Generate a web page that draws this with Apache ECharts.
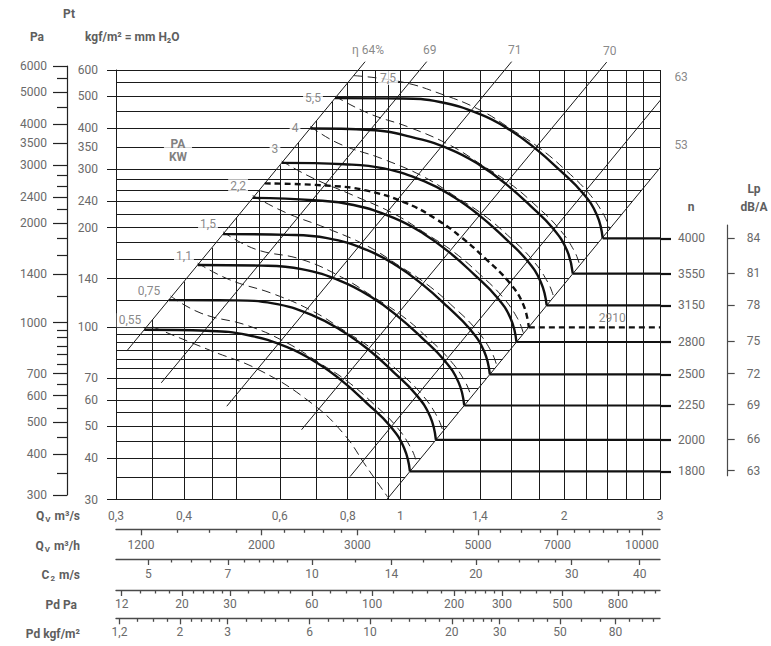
<!DOCTYPE html>
<html lang="it">
<head>
<meta charset="utf-8">
<title>Curve caratteristiche ventilatore</title>
<script src="https://cdn.jsdelivr.net/npm/echarts@6.0.0/dist/echarts.min.js"></script>
<style>
html,body{margin:0;padding:0;background:#fff;}
#chart{width:771px;height:646px;}
</style>
</head>
<body>
<div id="chart"></div>
<script>
// Fan performance chart: total pressure against volume flow on log-log scales,
// with speed curves, motor power curves, efficiency parabolas and side scales.

// ---- axis ranges ----
const qRange = [0.3, 3];          // Qv m³/s
const ptRange = [30, 600];        // Pt kgf/m²
const paRange = [300, 6000];      // Pt Pa
const lpRange = [35.2, 203];      // pressure span covered by the Lp scale

// ---- tick values ----
const qLabels = [0.3, 0.4, 0.6, 0.8, 1, 1.4, 2, 3];
const ptLabels = [600, 500, 400, 350, 300, 240, 200, 140, 100, 70, 60, 50, 40, 30];
const ptMarks = [600, 500, 400, 300, 240, 200, 140, 100, 70, 60, 50, 40, 30];
const paMajor = [6000, 5000, 4000, 3500, 3000, 2400, 2000, 1400, 1000, 700, 600, 500, 400, 300];
const paMinor = [5500, 4500, 2800, 2600, 2200, 1800, 1600, 1200, 950, 900, 850, 800, 750, 650, 550, 450, 350];

// ---- chart grid ----
const gridPt = [600, 550, 500, 450, 400, 350, 300, 280, 260, 240, 220, 200, 180, 160, 140, 120,
                100, 95, 90, 85, 80, 75, 70, 65, 60, 55, 50, 45, 40, 35];
const gridQ = [0.35, 0.4, 0.45, 0.5, 0.6, 0.7, 0.8, 0.9, 0.95, 1, 1.2, 1.4, 1.6, 1.8, 2, 2.2, 2.4, 2.6, 2.8, 3];
const gridQUpper = [0.55, 0.65, 0.75, 0.85];
const gridQUpperFloor = 140;

// ---- efficiency parabolas (P proportional to Q²) ----
const etaNames = ['η 64%', '69', '71', '70', '63', '53'];
const eta64 = [[0.3139, 84.5], [0.861, 635.8]];
const eta69 = [[0.3634, 67.7], [1.1175, 636]];
const eta71 = [[0.4795, 57.5], [1.601, 636]];
const eta70 = [[0.658, 48.8], [2.394, 634]];
const eta63 = [[0.808, 35.2], [3.158, 537]];
const eta53 = [[0.944, 30], [3.158, 336]];

// ---- speed curves (rpm) ----
const speeds = [4000, 3550, 3150, 2910, 2800, 2500, 2250, 2000, 1800];
const curve4000 = [[0.758,493],[0.998,492],[1.182,480],[1.40,441],[1.59,395],[1.767,348],[1.965,298],[2.165,254],[2.298,218],[2.354,185.5]];
const curve3550 = [[0.683,399],[0.879,395],[1.041,377],[1.234,345],[1.400,309],[1.558,272],[1.732,233],[1.908,198.5],[2.024,170.4],[2.074,145]];
const curve3150 = [[0.605,314],[0.787,311],[0.932,302],[1.105,276.2],[1.253,247.4],[1.395,218],[1.551,186.6],[1.708,159.1],[1.812,136.5],[1.857,116.2]];
const curve2910 = [[0.563,272],[0.730,268],[0.864,259],[1.025,237],[1.162,212.3],[1.293,187],[1.438,160.1],[1.584,136.5],[1.681,117.1],[1.722,99.7]];
const curve2800 = [[0.535,246],[0.693,242],[0.820,234],[0.972,213.9],[1.103,191.6],[1.227,168.8],[1.364,144.5],[1.503,123.2],[1.595,105.8],[1.634,90]];
const curve2500 = [[0.472,191],[0.619,190],[0.733,185.8],[0.869,170.7],[0.986,152.9],[1.096,134.7],[1.219,115.3],[1.343,98.3],[1.425,84.4],[1.460,71.8]];
const curve2250 = [[0.424,154],[0.555,153.3],[0.658,149.6],[0.779,137.4],[0.884,123.1],[0.984,108.4],[1.094,92.8],[1.205,79.1],[1.279,67.9],[1.310,57.8]];
const curve2000 = [[0.375,120.5],[0.493,120.3],[0.583,117.8],[0.691,108.2],[0.784,96.9],[0.873,85.4],[0.970,73.1],[1.069,62.3],[1.134,53.5],[1.162,45.5]];
const curve1800 = [[0.338,98],[0.441,97.3],[0.523,94.5],[0.619,86.8],[0.703,77.7],[0.782,68.5],[0.869,58.6],[0.958,50],[1.016,42.9],[1.041,36.5]];
const speedCurves = [curve4000, curve3550, curve3150, curve2910, curve2800, curve2500, curve2250, curve2000, curve1800];
const speedDashed = [false, false, false, true, false, false, false, false, false];
const lpValues = [84, 81, 78, null, 75, 72, 69, 66, 63];

// ---- absorbed power curves (kW) ----
const kwNames = ['7,5', '5,5', '4', '3', '2,2', '1,5', '1,1', '0,75', '0,55'];
const kw75 = [[0.821,577],[1.0,553],[1.182,509],[1.40,454],[1.606,395],[1.802,348],[2.014,298],[2.219,254],[2.367,218],[2.425,196.6]];
const kw55 = [[0.758,500],[0.872,444],[1.041,401.6],[1.234,355],[1.414,308.7],[1.589,272],[1.775,232.9],[1.956,198.5],[2.085,170.4],[2.136,153.7]];
const kw4 = [[0.683,405],[0.768,360],[0.932,321.7],[1.105,284.5],[1.266,247.4],[1.423,218],[1.590,186.6],[1.751,159.1],[1.866,136.5],[1.913,123.2]];
const kw3 = [[0.605,318],[0.688,283],[0.820,250],[0.972,220.3],[1.114,191.6],[1.252,168.8],[1.398,144.5],[1.541,123.2],[1.643,105.8],[1.683,95.4]];
const kw22 = [[0.535,250],[0.615,222],[0.733,198.8],[0.869,175.8],[0.996,152.9],[1.118,134.7],[1.249,115.3],[1.377,98.3],[1.468,84.4],[1.504,76.1]];
const kw15 = [[0.472,194],[0.541,172],[0.658,160.1],[0.779,141.5],[0.893,123.1],[1.004,108.4],[1.121,92.8],[1.235,79.1],[1.317,67.9],[1.349,61.3]];
const kw11 = [[0.424,156],[0.485,139],[0.583,126],[0.691,111.4],[0.792,96.9],[0.890,85.4],[0.994,73.1],[1.096,62.3],[1.168,53.5],[1.197,48.2]];
const kw075 = [[0.378,124],[0.43,110],[0.523,101],[0.619,89.4],[0.710,77.7],[0.798,68.5],[0.891,58.6],[0.982,50],[1.046,42.9],[1.072,38.7]];
const kw055 = [[0.351,99.9],[0.447,84.9],[0.552,73.8],[0.682,59.2],[0.785,47.6],[0.867,37.6],[0.949,30.4]];
const kwCurves = [kw75, kw55, kw4, kw3, kw22, kw15, kw11, kw075, kw055];
const kwLabelAt = [[0.9487,567.4],[0.6906,493.4],[0.64,400.3],[0.588,345.5],[0.503,266.9],[0.4428,204.4],[0.4,163.4],[0.345,128.2],[0.3183,104.7]];
const paKwAt = [0.39, 343.3];
const label2910At = [2.45, 99.7];

// ---- auxiliary scales below the chart ----
const qhRange = [1080, 10800];
const qhMajor = [1200, 2000, 3000, 5000, 7000, 10000];
const qhMinor = [1400, 1600, 1800, 2200, 2400, 2600, 2800, 3500, 4000, 4500, 5500, 6000, 6500, 7500, 8000, 8500, 9000, 9500];
const c2Range = [4.36, 43.6];
const c2Major = [5, 7, 10, 14, 20, 30, 40];
const c2Minor = [5.5, 6, 6.5, 7.5, 8, 8.5, 9, 12, 16, 18, 22, 24, 26, 28, 35];
const pdPaRange = [11.43, 1143];
const pdPaMajor = [12, 20, 30, 60, 100, 200, 300, 500, 800];
const pdPaMinor = [14, 16, 18, 22, 24, 26, 28, 35, 40, 45, 50, 70, 80, 90, 120, 140, 160, 180, 220, 240, 260, 280, 350, 400, 450, 600, 700, 900, 1000, 1100];
const pdKgRange = [1.165, 116.5];
const pdKgMajor = [1.2, 2, 3, 6, 10, 20, 30, 50, 80];
const pdKgMinor = [1.4, 1.6, 1.8, 2.2, 2.4, 2.6, 2.8, 3.5, 4, 4.5, 5, 7, 8, 9, 12, 14, 16, 18, 22, 24, 26, 28, 35, 40, 45, 60, 70, 90, 100, 110];

// ---------------------------------------------------------------------------
const INK = '#1a1a1a';
const SCALE_INK = '#4a4a4a';
const TXT = '#6a6a6a';
const HEAD = '#5e5e5e';
const FONT = 'Roboto, "DejaVu Sans", sans-serif';
const dec = v => String(+(+v).toPrecision(6)).replace('.', ',');
const plain = v => String(Math.round(+v));

const etaLines = [eta64, eta69, eta71, eta70, eta63, eta53];
const k64 = eta64[0][1] / (eta64[0][0] * eta64[0][0]);
const k53 = eta53[0][1] / (eta53[0][0] * eta53[0][0]);

// Grid segments, bounded by the 64 % parabola on the left and the 53 % one on the right
const gridSegs = [];
gridPt.forEach(p => gridSegs.push({coords: [[qRange[0], p], [Math.min(qRange[1], Math.sqrt(p / k53)), p]]}));
gridQ.forEach(q => gridSegs.push({coords: [[q, Math.min(ptRange[1], k64 * q * q)], [q, ptRange[0]]]}));
gridQUpper.forEach(q => gridSegs.push({coords: [[q, Math.min(ptRange[1], k64 * q * q)], [q, gridQUpperFloor]]}));

const nLevels = [], nNames = [], lpLevels = [], lpNames = [];
speedCurves.forEach((c, i) => {
  const end = c[c.length - 1];
  if (!speedDashed[i]) { nLevels.push(end[1]); nNames.push(String(speeds[i])); }
  if (lpValues[i] != null) { lpLevels.push(end[1]); lpNames.push(String(lpValues[i])); }
});
const nearestName = (levels, names) => v => {
  let best = 0;
  levels.forEach((l, i) => { if (Math.abs(Math.log(l) - Math.log(v)) < Math.abs(Math.log(levels[best]) - Math.log(v))) best = i; });
  return names[best];
};

const tickLabel = {color: TXT, fontSize: 12, fontFamily: FONT};

const series = [];

series.push({
  type: 'lines', coordinateSystem: 'cartesian2d', xAxisIndex: 0, yAxisIndex: 0,
  data: gridSegs, silent: true, z: 1,
  lineStyle: {color: INK, width: 1, opacity: 1, curveness: 0}
});

etaLines.forEach(d => series.push({
  type: 'line', xAxisIndex: 0, yAxisIndex: 0, data: d, symbol: 'none', clip: false, silent: true, z: 2,
  lineStyle: {color: INK, width: 1}
}));

kwCurves.forEach(d => series.push({
  type: 'line', xAxisIndex: 0, yAxisIndex: 0, data: d, symbol: 'none', silent: true, z: 3,
  smooth: 0.45,
  lineStyle: {color: '#222', width: 1, type: [9, 5]}
}));

speedCurves.forEach((d, i) => {
  const end = d[d.length - 1];
  series.push({
    type: 'line', xAxisIndex: 0, yAxisIndex: 0, data: d, symbol: 'none', silent: true, z: 4,
    smooth: 0.45,
    lineStyle: {color: '#111', width: 2.4, type: speedDashed[i] ? [6, 4] : 'solid'}
  });
  series.push({
    type: 'line', xAxisIndex: 0, yAxisIndex: 0, data: [end, [qRange[1], end[1]]], symbol: 'none', silent: true, z: 4,
    lineStyle: {color: '#111', width: 2.2, type: speedDashed[i] ? [6, 4] : 'solid'}
  });
});

// Text annotations placed in data coordinates
const texts = [];
kwNames.forEach((t, i) => texts.push({
  value: kwLabelAt[i],
  label: {formatter: t, position: 'inside', backgroundColor: '#fff', padding: [1, 2]}
}));
texts.push({
  value: paKwAt,
  label: {formatter: 'PA\nKW', position: 'inside', backgroundColor: '#fff', padding: [1, 5],
          fontWeight: 'bold', color: HEAD, lineHeight: 13}
});
texts.push({value: label2910At, label: {formatter: '2910', position: 'top', distance: 3}});
etaLines.forEach((d, i) => texts.push({
  value: d[1],
  label: {formatter: etaNames[i], position: 'top', distance: i >= 4 ? 2 : 5, offset: i >= 4 ? [9, 0] : [3, 0]}
}));
series.push({
  type: 'scatter', xAxisIndex: 0, yAxisIndex: 0, data: texts, symbolSize: 1, clip: false, silent: true, z: 20,
  itemStyle: {color: 'rgba(0,0,0,0)'},
  label: Object.assign({show: true}, tickLabel)
});

// ---------------------------------------------------------------------------
const scaleGrids = [
  {top: 529.3, range: qhRange, major: qhMajor, minor: qhMinor, margin: 10, fmt: plain},
  {top: 559, range: c2Range, major: c2Major, minor: c2Minor, margin: 9, fmt: dec},
  {top: 590, range: pdPaRange, major: pdPaMajor, minor: pdPaMinor, margin: 8, fmt: dec},
  {top: 618.3, range: pdKgRange, major: pdKgMajor, minor: pdKgMinor, margin: 8, fmt: dec}
];

const grids = [
  {left: 116, top: 70, width: 544, height: 429.5},
  {left: 67, top: 66, width: 1, height: 429},
  {left: 727.7, top: 225, width: 1, height: 250.7}
];
scaleGrids.forEach(s => grids.push({left: 116, top: s.top - 1, width: 544, height: 1}));
grids.forEach(g => { g.containLabel = false; g.outerBoundsMode = 'none'; g.show = false; });

const xAxes = [
  {gridIndex: 0, type: 'log', logBase: 10, min: qRange[0], max: qRange[1],
   axisLine: {show: true, lineStyle: {color: INK, width: 1}}, axisTick: {show: false}, splitLine: {show: false},
   minorTick: {show: false}, minorSplitLine: {show: false},
   axisLabel: Object.assign({customValues: qLabels, formatter: dec, margin: 10}, tickLabel)},
  {gridIndex: 1, type: 'value', show: false},
  {gridIndex: 2, type: 'value', show: false}
];
const yAxes = [
  {gridIndex: 0, type: 'log', logBase: 10, min: ptRange[0], max: ptRange[1], position: 'left',
   axisLine: {show: true, lineStyle: {color: INK, width: 1}},
   axisTick: {show: true, customValues: ptMarks, length: 9, lineStyle: {color: INK, width: 1}},
   splitLine: {show: false}, minorTick: {show: false},
   axisLabel: Object.assign({customValues: ptLabels, formatter: plain, margin: 18}, tickLabel)},
  {gridIndex: 0, type: 'log', logBase: 10, min: ptRange[0], max: ptRange[1], position: 'right',
   axisLine: {show: false},
   axisTick: {show: true, customValues: nLevels, length: 11, lineStyle: {color: '#111', width: 2.2}},
   splitLine: {show: false}, minorTick: {show: false},
   axisLabel: Object.assign({customValues: nLevels, formatter: nearestName(nLevels, nNames), margin: 18}, tickLabel)},
  {gridIndex: 1, type: 'log', logBase: 10, min: paRange[0], max: paRange[1], position: 'left',
   axisLine: {show: true, lineStyle: {color: '#222', width: 1.2}},
   axisTick: {show: true, customValues: paMajor, length: 14, lineStyle: {color: '#222', width: 1.2}},
   splitLine: {show: false}, minorTick: {show: false},
   axisLabel: Object.assign({customValues: paMajor, formatter: plain, margin: 20}, tickLabel)},
  {gridIndex: 1, type: 'log', logBase: 10, min: paRange[0], max: paRange[1], position: 'left',
   axisLine: {show: false},
   axisTick: {show: true, customValues: paMinor, length: 10, lineStyle: {color: '#222', width: 1.2}},
   splitLine: {show: false}, minorTick: {show: false}, axisLabel: {show: false}},
  {gridIndex: 2, type: 'log', logBase: 10, min: lpRange[0], max: lpRange[1], position: 'right',
   axisLine: {show: true, lineStyle: {color: SCALE_INK, width: 1.2}},
   axisTick: {show: true, customValues: lpLevels, length: 7, lineStyle: {color: SCALE_INK, width: 1.2}},
   splitLine: {show: false}, minorTick: {show: false},
   axisLabel: Object.assign({customValues: lpLevels, formatter: nearestName(lpLevels, lpNames), margin: 18}, tickLabel)}
];

scaleGrids.forEach((s, i) => {
  const gi = 3 + i;
  xAxes.push({gridIndex: gi, type: 'log', logBase: 10, min: s.range[0], max: s.range[1], position: 'bottom',
    axisLine: {show: true, lineStyle: {color: SCALE_INK, width: 1.4}},
    axisTick: {show: true, customValues: s.major, length: 6, lineStyle: {color: SCALE_INK, width: 1.3}},
    splitLine: {show: false}, minorTick: {show: false},
    axisLabel: Object.assign({customValues: s.major, formatter: s.fmt, margin: s.margin}, tickLabel)});
  xAxes.push({gridIndex: gi, type: 'log', logBase: 10, min: s.range[0], max: s.range[1], position: 'bottom',
    axisLine: {show: false},
    axisTick: {show: true, customValues: s.minor, length: 3.5, lineStyle: {color: SCALE_INK, width: 1.3}},
    splitLine: {show: false}, minorTick: {show: false}, axisLabel: {show: false}});
  yAxes.push({gridIndex: gi, type: 'value', show: false});
});

// ---------------------------------------------------------------------------
const headStyle = {fontFamily: FONT, fontSize: 12, fontWeight: 'bold', fill: HEAD};
const headRich = {
  b: {fontFamily: FONT, fontSize: 12, fontWeight: 'bold', fill: HEAD},
  s: {fontFamily: FONT, fontSize: 8, fontWeight: 'bold', fill: HEAD, padding: [7, 1, 0, 1]}
};
const head = (x, y, text, align, rich) => ({
  type: 'text', x, y, silent: true,
  style: Object.assign({}, headStyle, {text, align, verticalAlign: 'middle'}, rich ? {rich: headRich} : {})
});

const option = {
  animation: false,
  backgroundColor: '#fff',
  textStyle: {fontFamily: FONT},
  grid: grids,
  xAxis: xAxes,
  yAxis: yAxes,
  series,
  graphic: [
    head(69, 14, 'Pt', 'center'),
    head(37, 37, 'Pa', 'center'),
    head(85, 37, 'kgf/m² = mm H₂O', 'left'),
    head(691, 207, 'n', 'center'),
    head(754, 189, 'Lp', 'center'),
    head(754, 207, 'dB/A', 'center'),
    head(80, 516, '{b|Q}{s|V}{b| m³/s}', 'right', true),
    head(80, 546, '{b|Q}{s|V}{b| m³/h}', 'right', true),
    head(80, 575, '{b|C}{s|2}{b| m/s}', 'right', true),
    head(77, 605, 'Pd Pa', 'right'),
    head(80, 634, 'Pd kgf/m²', 'right')
  ]
};

const chart = echarts.init(document.getElementById('chart'), null, {renderer: 'svg'});
chart.setOption(option);
</script>
</body>
</html>
